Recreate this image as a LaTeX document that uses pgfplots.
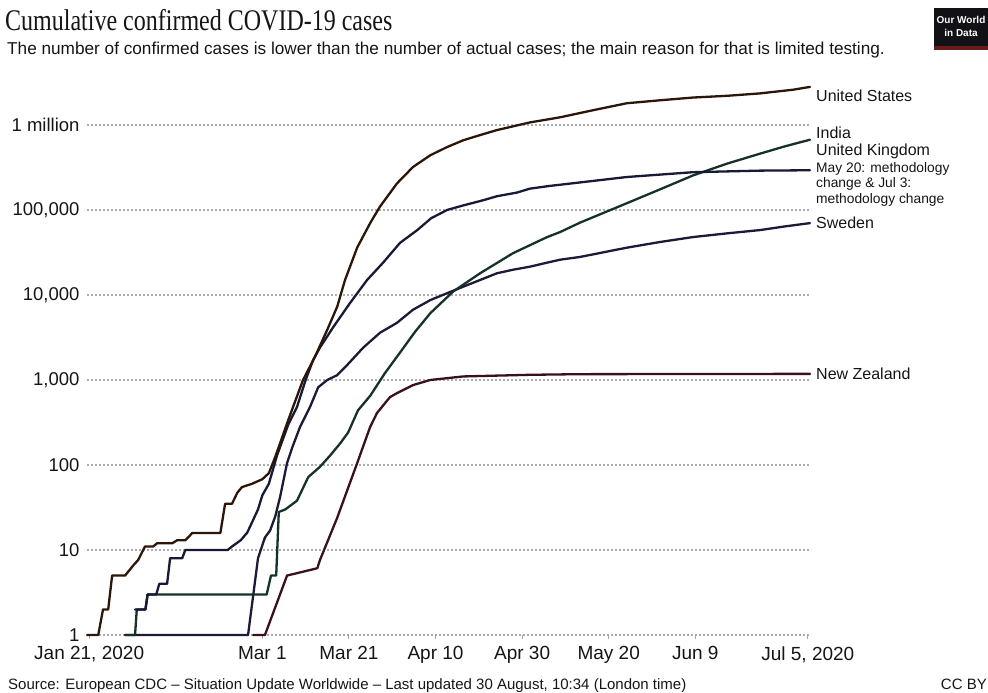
\documentclass[border=0pt]{standalone}
\usepackage{fontspec}
\setmainfont{Liberation Sans}
\newfontfamily\titlefont{Liberation Serif}
\usepackage{graphicx}
\usepackage{pgfplots}
\pgfplotsset{compat=1.18}
\usepackage{pgfplotstable}

\definecolor{cUS}{HTML}{2B1608}
\definecolor{cIN}{HTML}{16302A}
\definecolor{cUK}{HTML}{171A35}
\definecolor{cSE}{HTML}{1C1A36}
\definecolor{cNZ}{HTML}{3A1020}
\definecolor{txt}{HTML}{151515}
\definecolor{logo}{HTML}{111116}
\definecolor{logored}{HTML}{6B1A1A}

% day 0 = Jan 21, 2020
\pgfplotstableread{
d v
-0.5 1
2.1 1
3.2 2
4.4 2
5.3 5
8.3 5
10.2 6.6
11.3 7.6
12.9 11
14.8 11
15.7 12
19.2 12
20.3 13
22.2 13
23.8 15.8
30.3 15.8
31.4 35
33 35
34.2 47
35.3 55
37.6 60
40 68
41.5 80
43 125
46 340
49.4 1000
52.2 1900
55 3900
57.3 7300
59.1 15000
61.9 36000
64.9 70000
67.2 110000
71.1 205000
74.8 320000
78.8 440000
82.7 550000
86.4 660000
90.3 760000
94.2 870000
101.8 1070000
108.8 1230000
116.4 1490000
124.2 1800000
131.9 1950000
139.5 2100000
147.3 2200000
155 2350000
162.7 2600000
166.5 2800000
}\usdata

\pgfplotstableread{
d v
8.3 1
10.6 1
11 2
13 2
13.5 3
41 3
42 5
43.2 5
43.8 28
45.3 30
48 38
50.6 72
53.3 95
55.7 130
58 180
59.8 240
62.1 440
64.9 650
68.3 1200
71.8 2100
75.3 3700
78.8 6100
84.1 11000
90.3 18000
97.9 31000
105.8 48000
108.8 55000
113.4 71000
124.2 120000
131.9 175000
139.5 255000
147.3 350000
155 460000
160.7 560000
166.5 670000
}\indata

\pgfplotstableread{
d v
10.6 2
13 2
13.5 3
15.5 3
16.2 4
18 4
18.7 8
21.5 8
22.2 10
32 10
33 11
35 13
36.5 16
37.2 19
39 30
40 44
41.5 60
43.4 130
46 300
48 480
50 1000
51.7 1700
53.3 2400
56.4 4200
60.3 8100
64.2 15000
67.9 24000
71.8 41000
75.8 58000
79 80000
82.7 100000
86.4 113000
91 130000
94.2 145000
98.8 160000
101.8 178000
106.5 192000
108.8 198000
124.2 244000
139.5 278000
155 290000
166.5 293000
}\ukdata

\pgfplotstableread{
d v
8.3 1
36.7 1
39 8
40.6 14
41.8 17
43 25
44.1 42
45.7 105
46.9 160
48.7 280
51 480
52.9 820
55 1000
57.3 1140
59.6 1500
63.3 2400
67.2 3600
71.1 4700
74.8 6700
78.8 8700
82.7 10500
86.4 12500
90.3 15000
94.2 18000
97.9 19800
101.8 21500
105.8 24000
108.8 26000
113.4 28000
124.2 36000
131.9 42000
139.5 48000
147.3 53000
155 58000
160.7 64000
166.5 70000
}\sedata

\pgfplotstableread{
d v
37.9 1
40.6 1
45.3 4.4
45.7 5
52.7 6.1
53.3 7.6
57.3 24
61.9 105
64.9 280
66.5 410
69.5 630
71.1 700
74.8 870
78.8 1000
86.4 1100
101.8 1150
113.4 1170
166.5 1180
}\nzdata

\begin{document}
\begin{tikzpicture}[x=1bp,y=1bp]
\path[use as bounding box] (0,0) rectangle (988,693);
\begin{axis}[
  at={(87bp,58bp)}, anchor=south west,
  scale only axis, width=723bp, height=553bp,
  xmin=-0.5, xmax=166.5,
  ymode=log, ymin=1, ymax=3.2e6,
  axis line style={draw=none},
  ymajorgrids, xmajorgrids=false,
  major grid style={gray!65, line width=1.3bp, dash pattern=on 1.8bp off 2.2bp},
  xtick={0,40,60,80,100,120,140,166},
  xticklabels={{Jan 21, 2020},Mar 1,Mar 21,Apr 10,Apr 30,May 20,Jun 9,{Jul 5, 2020}},
  ytick={1,10,100,1000,10000,100000,1000000},
  yticklabels={1,10,100,{1,000},{10,000},{100,000},1 million},
  xtick pos=lower, ytick pos=left,
  tick align=outside,
  major tick length=4bp, minor tick length=0pt,
  xtick style={draw=gray!70, line width=0.9bp},
  ytick style={draw=none},
  minor ytick={},
  xticklabel style={font=\fontsize{19bp}{22bp}\selectfont, text=txt, yshift=-4bp},
  yticklabel style={font=\fontsize{18.5bp}{22bp}\selectfont, text=txt},
  every axis plot/.append style={line width=2.3bp, line join=round, line cap=round},
  clip=false,
]
\addplot[cNZ] table[x=d,y=v]{\nzdata};
\addplot[cSE] table[x=d,y=v]{\sedata};
\addplot[cIN] table[x=d,y=v]{\indata};
\addplot[cUK] table[x=d,y=v]{\ukdata};
\addplot[cUS] table[x=d,y=v]{\usdata};
\end{axis}

% title and subtitle
\node[anchor=base west, inner sep=0] at (5,662) {\scalebox{1}[1.25]{\titlefont\fontsize{24bp}{28bp}\selectfont\color{txt}Cumulative confirmed COVID-19 cases}};
\node[anchor=base west, inner sep=0, text=txt] at (7,638) {\fontsize{17.2bp}{20bp}\selectfont The number of confirmed cases is lower than the number of actual cases; the main reason for that is limited testing.};

% logo
\fill[logo] (934,644) rectangle (990,685);
\fill[logored] (934,643) rectangle (990,646.5);
\node[anchor=base, inner sep=0, text=white] at (961,669) {\fontsize{10bp}{12bp}\selectfont\bfseries Our World};
\node[anchor=base, inner sep=0, text=white] at (961,656) {\fontsize{10bp}{12bp}\selectfont\bfseries in Data};

% series labels
\begin{scope}[every node/.style={anchor=west, inner sep=0, text=txt, font=\fontsize{16bp}{18bp}\selectfont}]
\node at (816,597) {United States};
\node at (816,560) {India};
\node at (816,541.5) {United Kingdom};
\node at (816,470) {Sweden};
\node at (816,319) {New Zealand};
\end{scope}
\node[anchor=north west, inner sep=0, text=txt, align=left, font=\fontsize{13.8bp}{15.5bp}\selectfont] at (816,531) {May 20: methodology\\change \& Jul 3:\\methodology change};

% source
\node[anchor=base west, inner sep=0, text=txt] at (8,3) {\fontsize{15bp}{17bp}\selectfont Source: European CDC -- Situation Update Worldwide -- Last updated 30 August, 10:34 (London time)};
\node[anchor=base east, inner sep=0, text=txt] at (987,3) {\fontsize{15bp}{17bp}\selectfont CC BY};
\end{tikzpicture}
\end{document}
